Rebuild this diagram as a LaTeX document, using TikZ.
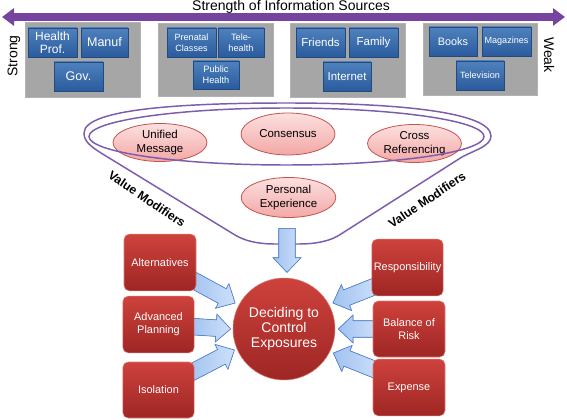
\documentclass[tikz,border=0pt]{standalone}
\usepackage{fontspec}
\setmainfont{Liberation Sans}
\usetikzlibrary{arrows.meta,calc,positioning,shapes.geometric,shadows,backgrounds}

\definecolor{srcblue}{RGB}{79,129,189}
\definecolor{srcdark}{RGB}{42,92,158}
\definecolor{panelgray}{RGB}{166,166,166}
\definecolor{factred}{RGB}{206,66,60}
\definecolor{factdark}{RGB}{158,38,36}
\definecolor{pinktop}{RGB}{253,224,224}
\definecolor{pinkbot}{RGB}{242,168,166}
\definecolor{pinkline}{RGB}{196,82,78}
\definecolor{strpurple}{RGB}{118,68,160}
\definecolor{funnelline}{RGB}{124,92,172}
\definecolor{arrlight}{RGB}{206,224,250}
\definecolor{arrmid}{RGB}{160,194,240}
\definecolor{arrline}{RGB}{82,132,206}

% fat block arrow from #1 to #2
\newcommand{\fatarrow}[2]{%
  \coordinate (fa-h) at ($(#2)!11pt!(#1)$);
  \filldraw[fatarr] ($(#1)!6.2pt!90:(#2)$) -- ($(fa-h)!6.2pt!-90:(#1)$)
    -- ($(fa-h)!10.5pt!-90:(#1)$) -- (#2) -- ($(fa-h)!10.5pt!90:(#1)$)
    -- ($(fa-h)!6.2pt!90:(#1)$) -- ($(#1)!6.2pt!-90:(#2)$) -- cycle;}

\begin{document}
\begin{tikzpicture}[x=0.75pt,y=-0.75pt,
    panel/.style={rectangle,fill=panelgray,draw=gray!60,line width=0.3pt,
      drop shadow={opacity=0.25,shadow xshift=0.8pt,shadow yshift=-0.8pt}},
    srcbox/.style={rectangle,top color=srcblue,bottom color=srcdark,
      draw=srcdark!80!black,line width=0.3pt,text=white,align=center,
      inner sep=0.5pt,minimum height=21.75pt,font=\fontsize{9}{10}\selectfont,
      drop shadow={opacity=0.3,shadow xshift=0.8pt,shadow yshift=-0.8pt}},
    modifier/.style={ellipse,top color=pinktop,bottom color=pinkbot,
      draw=pinkline,line width=0.6pt,align=center,inner sep=0pt,
      minimum width=70.5pt,minimum height=28.5pt,
      font=\fontsize{8.6}{10.4}\selectfont},
    factor/.style={rectangle,rounded corners=4pt,top color=factred,
      bottom color=factdark,draw=factred!70!white,line width=0.4pt,
      text=white,align=center,inner sep=1pt,minimum width=53.5pt,
      minimum height=42.5pt,font=\fontsize{8.2}{10}\selectfont},
    fatarr/.style={left color=arrmid,right color=arrlight,draw=arrline,
      line width=0.5pt,line join=miter},
    funnel/.style={draw=funnelline,line width=1.1pt},
    label/.style={font=\fontsize{10.5}{12}\selectfont}]

\useasboundingbox (0,0) rectangle (567,420);

% strength scale
\node[label] (title) at (291,6.5) {Strength of Information Sources};
\coordinate (lft) at (2,17);
\coordinate (rgt) at (565,17);
\draw[strpurple,line width=6pt,
  {Triangle[length=9pt,width=12.75pt]}-{Triangle[length=9pt,width=12.75pt]}]
  (lft) -- (rgt);
\node[label,rotate=90] (strong) at (14,56) {Strong};
\node[label,rotate=-90] (weak) at (549,55) {Weak};

% source panels
\node[panel,minimum width=86.25pt,minimum height=56.25pt] (pnl1) at (82.5,59.5) {};
\node[panel,minimum width=86.25pt,minimum height=54.75pt] (pnl2) at (215.5,59.5) {};
\node[panel,minimum width=86.25pt,minimum height=55.5pt] (pnl3) at (347.5,60) {};
\node[panel,minimum width=85.5pt,minimum height=54pt] (pnl4) at (480,59) {};

\node[srcbox,minimum width=36.75pt] (hprof) at (52.5,42.5) {Health\\Prof.};
\node[srcbox,minimum width=35.25pt,font=\fontsize{9.4}{11}\selectfont] (manuf) at (104.5,42.5) {Manuf};
\node[srcbox,minimum width=36.75pt,font=\fontsize{9.4}{11}\selectfont] (gov) at (78.5,76.5) {Gov.};

\node[srcbox,minimum width=36.75pt,font=\fontsize{6.8}{8}\selectfont] (prenat) at (191.5,42.5) {Prenatal\\Classes};
\node[srcbox,minimum width=34.5pt,font=\fontsize{6.9}{8}\selectfont] (tele) at (241,42.5) {Tele-\\health};
\node[srcbox,minimum width=34.5pt,minimum height=21pt,font=\fontsize{6.9}{8}\selectfont] (pubh) at (216,75) {Public\\Health};

\node[srcbox,minimum width=36.75pt,font=\fontsize{8.6}{10}\selectfont] (friends) at (320.5,42.5) {Friends};
\node[srcbox,minimum width=36.75pt,font=\fontsize{8.6}{10}\selectfont] (family) at (373.5,42.5) {Family};
\node[srcbox,minimum width=36pt,font=\fontsize{8.6}{10}\selectfont] (internet) at (347,76.5) {Internet};

\node[srcbox,minimum width=36pt,font=\fontsize{8.1}{10}\selectfont] (books) at (453,41.5) {Books};
\node[srcbox,minimum width=36.75pt,font=\fontsize{6.8}{8}\selectfont] (mags) at (506.5,41.5) {Magazines};
\node[srcbox,minimum width=36pt,font=\fontsize{6.8}{8}\selectfont] (tv) at (480,75.5) {Television};

% value modifiers
\node[modifier] (unified) at (160,142.5) {Unified\\Message};
\node[modifier,minimum height=31.5pt] (consensus) at (288,134) {Consensus};
\node[modifier] (cross) at (414.5,143.5) {Cross\\Referencing};
\node[modifier,minimum width=71pt,minimum height=30pt] (personal) at (288.5,197.5) {Personal\\Experience};

% funnel
\draw[funnel] (286.5,136.5) ellipse [x radius=197.5,y radius=28.5];
\draw[funnel] (84,133) .. controls (84,108) and (190,103) .. (287,103)
  .. controls (390,103) and (491,111) .. (491,136)
  .. controls (491,146) and (475,150) .. (462,157) -- (341,234)
  .. controls (331,241) and (316,244) .. (299,244) -- (275,244)
  .. controls (258,244) and (245,241) .. (235,235) -- (101,153)
  .. controls (90,146) and (84,141) .. (84,133) -- cycle;
\node[font=\bfseries\fontsize{9.2}{11}\selectfont,rotate=-34] (vmleft) at (147,199) {Value Modifiers};
\node[font=\bfseries\fontsize{9.2}{11}\selectfont,rotate=34] (vmright) at (427,200) {Value Modifiers};

% decision and factors
\node[circle,minimum size=76.5pt,inner sep=0pt,top color=factred,
  bottom color=factdark,draw=factred!70!white,line width=0.4pt,text=white,
  align=center,font=\fontsize{10.5}{11.25}\selectfont] (dec) at (284,329)
  {Deciding to\\Control\\Exposures};

\node[factor,minimum width=54pt] (alt) at (160,262.5) {Alternatives};
\node[factor] (adv) at (158.5,324.5) {Advanced\\Planning};
\node[factor,minimum height=42pt] (iso) at (158.5,390) {Isolation};
\node[factor] (resp) at (407.5,267.5) {Responsibility};
\node[factor,minimum width=54pt,minimum height=42pt] (bal) at (409,329) {Balance of\\Risk};
\node[factor,minimum width=54pt] (exp) at (409,387.5) {Expense};

\coordinate (dn-s) at ($(personal.south)+(-1.5,10.5)$);
\coordinate (dn-t) at ($(dn-s)+(0,44)$);
\fatarrow{dn-s}{dn-t}

\begin{scope}[on background layer]
  \coordinate (alt-s) at ($(alt.east)!0.6!(alt.south east)+(-4,0)$);
  \coordinate (alt-t) at ($(dec.center)!1.08!(dec.152)$);
  \fatarrow{alt-s}{alt-t}
  \coordinate (adv-s) at ($(adv.east)+(-4,2)$);
  \coordinate (adv-t) at ($(dec.center)!1.04!(dec.180)$);
  \fatarrow{adv-s}{adv-t}
  \coordinate (iso-s) at ($(iso.east)!0.6!(iso.north east)+(-4,0)$);
  \coordinate (iso-t) at ($(dec.center)!1.05!(dec.203)$);
  \fatarrow{iso-s}{iso-t}
  \coordinate (resp-s) at ($(resp.west)!0.65!(resp.south west)+(4,0)$);
  \coordinate (resp-t) at ($(dec.center)!1.08!(dec.28)$);
  \fatarrow{resp-s}{resp-t}
  \coordinate (bal-s) at ($(bal.west)+(4,0)$);
  \coordinate (bal-t) at ($(dec.center)!1.06!(dec.0)$);
  \fatarrow{bal-s}{bal-t}
  \coordinate (exp-s) at ($(exp.west)!0.6!(exp.north west)+(4,0)$);
  \coordinate (exp-t) at ($(dec.center)!1.07!(dec.334)$);
  \fatarrow{exp-s}{exp-t}
\end{scope}
\end{tikzpicture}
\end{document}
